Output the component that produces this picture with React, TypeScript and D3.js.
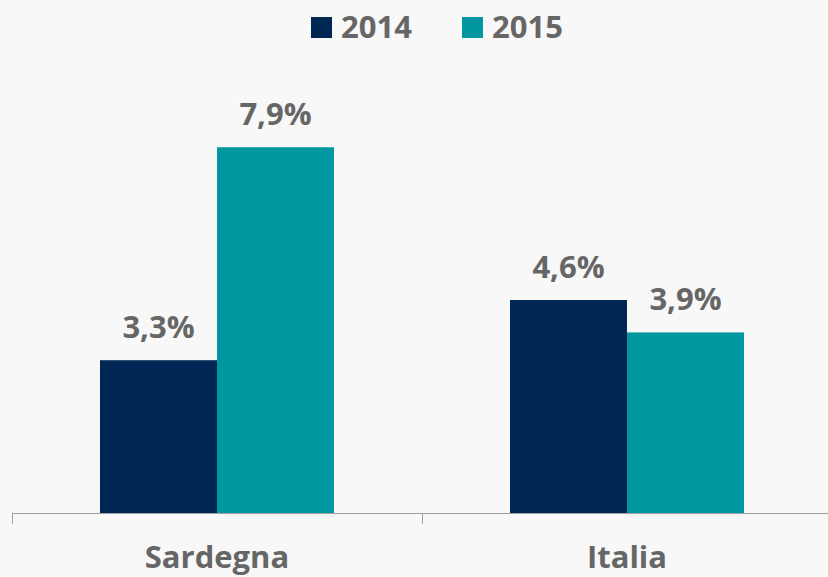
import React, { useEffect, useRef } from "react";
import * as d3 from "d3";

// chart data
const categories = ["Sardegna", "Italia"];
const seriesNames = ["2014", "2015"];
const values2014 = [3.3, 4.6];
const values2015 = [7.9, 3.9];
const seriesColors = ["#002653", "#0097a0"];

const App: React.FC = () => {
  const svgRef = useRef<SVGSVGElement | null>(null);

  useEffect(() => {
    document.body.style.margin = "0";
    const width = 828;
    const height = 577;
    const font = "'Open Sans', sans-serif";
    const textColor = "#666666";

    const svg = d3.select(svgRef.current);
    svg.selectAll("*").remove();

    svg
      .append("rect")
      .attr("width", width)
      .attr("height", height)
      .attr("fill", "#f8f8f8");

    const data = categories.map((c, i) => ({
      category: c,
      values: [values2014[i], values2015[i]],
    }));

    // outer scale for categories
    const x0 = d3.scaleBand().domain(categories).range([12, 832]).padding(0);
    // inner scale for the years
    const x1 = d3
      .scaleBand()
      .domain(seriesNames)
      .range([0, x0.bandwidth()])
      .paddingInner(0)
      .paddingOuter(0.752);

    const y = d3.scaleLinear().domain([0, 10]).range([513, 50]);

    const groups = svg
      .selectAll("g.cat")
      .data(data)
      .enter()
      .append("g")
      .attr("class", "cat")
      .attr("transform", (d) => `translate(${x0(d.category)},0)`);

    groups
      .selectAll("rect")
      .data((d) => d.values.map((v, i) => ({ key: seriesNames[i], v, i })))
      .enter()
      .append("rect")
      .attr("x", (d) => x1(d.key)!)
      .attr("y", (d) => y(d.v))
      .attr("width", x1.bandwidth())
      .attr("height", (d) => y(0) - y(d.v))
      .attr("fill", (d) => seriesColors[d.i]);

    // value labels
    groups
      .selectAll("text.val")
      .data((d) => d.values.map((v, i) => ({ key: seriesNames[i], v })))
      .enter()
      .append("text")
      .attr("class", "val")
      .attr("x", (d) => x1(d.key)! + x1.bandwidth() / 2)
      .attr("y", (d) => y(d.v) - 22)
      .attr("text-anchor", "middle")
      .style("font-family", font)
      .style("font-weight", "bold")
      .style("font-size", "31px")
      .attr("fill", textColor)
      .text((d) => d.v.toFixed(1).replace(".", ",") + "%");

    // x axis
    const axis = svg.append("g");
    axis
      .append("line")
      .attr("x1", 12)
      .attr("x2", width)
      .attr("y1", 513.5)
      .attr("y2", 513.5)
      .attr("stroke", "#a0a0a0")
      .attr("stroke-width", 1);
    const tickXs = [...categories.map((c) => x0(c)!), 832];
    axis
      .selectAll("line.tick")
      .data(tickXs)
      .enter()
      .append("line")
      .attr("class", "tick")
      .attr("x1", (d) => Math.round(d) + 0.5)
      .attr("x2", (d) => Math.round(d) + 0.5)
      .attr("y1", 513)
      .attr("y2", 524)
      .attr("stroke", "#a0a0a0");
    axis
      .selectAll("text")
      .data(categories)
      .enter()
      .append("text")
      .attr("x", (d) => x0(d)! + x0.bandwidth() / 2)
      .attr("y", 568)
      .attr("text-anchor", "middle")
      .style("font-family", font)
      .style("font-weight", "bold")
      .style("font-size", "31px")
      .attr("fill", textColor)
      .text((d) => d);

    // legend
    const legendX = [311, 462];
    const legend = svg
      .selectAll("g.legend")
      .data(seriesNames)
      .enter()
      .append("g")
      .attr("class", "legend")
      .attr("transform", (d, i) => `translate(${legendX[i]},17)`);
    legend
      .append("rect")
      .attr("width", 21)
      .attr("height", 21)
      .attr("fill", (d, i) => seriesColors[i]);
    legend
      .append("text")
      .attr("x", 30)
      .attr("y", 21)
      .style("font-family", font)
      .style("font-weight", "bold")
      .style("font-size", "31px")
      .attr("fill", textColor)
      .text((d) => d);
  }, []);

  return <svg ref={svgRef} width={828} height={577} style={{ display: "block" }}></svg>;
};

export default App;
